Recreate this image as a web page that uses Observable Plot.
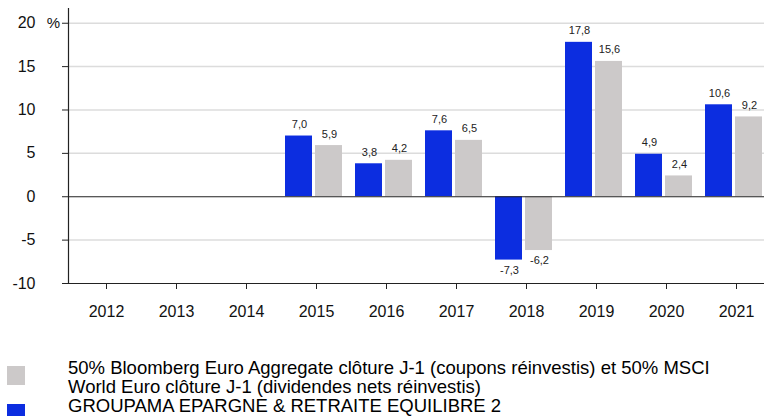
<!DOCTYPE html>
<html>
<head>
<meta charset="utf-8">
<script src="https://cdn.jsdelivr.net/npm/d3@7"></script>
<script src="https://cdn.jsdelivr.net/npm/@observablehq/plot@0.6"></script>
<style>
  html, body { margin: 0; padding: 0; background: #fff; overflow: hidden; }
  body { width: 764px; height: 416px; font-family: "Liberation Sans", Arial, sans-serif; }
  #chart svg { display: block; }
  #legend { position: relative; height: 66px; }
  .sw { position: absolute; left: 7px; width: 18px; height: 19px; }
  .lt { position: absolute; left: 68px; font-size: 18.5px; line-height: 19px; color: #000; white-space: nowrap; }
</style>
</head>
<body>
<div id="chart"></div>
<div id="legend"></div>
<script>
const years = ["2012","2013","2014","2015","2016","2017","2018","2019","2020","2021"];
const fundYears = ["2015","2016","2017","2018","2019","2020","2021"];
const fundValues = [7.0, 3.8, 7.6, -7.3, 17.8, 4.9, 10.6];
const benchValues = [5.9, 4.2, 6.5, -6.2, 15.6, 2.4, 9.2];
const yTicks = [-10, -5, 0, 5, 10, 15, 20];
const gridTicks = [-5, 5, 10, 15, 20];
const fundName = "GROUPAMA EPARGNE &amp; RETRAITE EQUILIBRE 2";
const benchLine1 = "50% Bloomberg Euro Aggregate clôture J-1 (coupons réinvestis) et 50% MSCI";
const benchLine2 = "World Euro clôture J-1 (dividendes nets réinvestis)";
const blue = "#0c2de0";
const grey = "#ccc9c9";

const fund = fundYears.map((y, i) => ({year: y, value: fundValues[i]}));
const bench = fundYears.map((y, i) => ({year: y, value: benchValues[i]}));
const fmt = v => d3.format(".1f")(v).replace(".", ",").replace("\u2212", "-");
const fmtInt = v => String(v);

const chart = Plot.plot({
  width: 764,
  height: 350,
  marginLeft: 68,
  marginRight: 0,
  marginTop: 8,
  marginBottom: 67,
  style: {fontFamily: "'Liberation Sans', Arial, sans-serif", background: "#fff"},
  x: {domain: years, range: [69, 773], padding: 0},
  y: {domain: [-10, 21.7]},
  marks: [
    Plot.ruleY(gridTicks, {stroke: "#dcdcdc", strokeWidth: 1.5}),
    Plot.barY(fund, {x: "year", y: "value", fill: blue, insetLeft: 4, insetRight: 39}),
    Plot.barY(bench, {x: "year", y: "value", fill: grey, insetLeft: 34, insetRight: 9}),
    Plot.ruleY([0], {stroke: "#222", strokeWidth: 1.2}),
    Plot.ruleY([-10], {stroke: "#222", strokeWidth: 1.2}),
    Plot.frame({anchor: "left", stroke: "#222", strokeWidth: 1.2}),
    Plot.text(fund.filter(d => d.value >= 0), {x: "year", y: "value", text: d => fmt(d.value), dx: -17, dy: -8, lineAnchor: "bottom", fontSize: 11, fill: "#222"}),
    Plot.text(fund.filter(d => d.value < 0), {x: "year", y: "value", text: d => fmt(d.value), dx: -17, dy: 6, lineAnchor: "top", fontSize: 11, fill: "#222"}),
    Plot.text(bench.filter(d => d.value >= 0), {x: "year", y: "value", text: d => fmt(d.value), dx: 13, dy: -8, lineAnchor: "bottom", fontSize: 11, fill: "#222"}),
    Plot.text(bench.filter(d => d.value < 0), {x: "year", y: "value", text: d => fmt(d.value), dx: 13, dy: 6, lineAnchor: "top", fontSize: 11, fill: "#222"}),
    Plot.axisY({ticks: yTicks, tickFormat: fmtInt, tickSize: 6, tickPadding: 27, fontSize: 16, label: null, stroke: "#222", fill: "#111"}),
    Plot.text(["%"], {y: [20], frameAnchor: "left", textAnchor: "middle", dx: -15, fontSize: 15, fill: "#111"}),
    Plot.axisX({tickSize: 6, tickPadding: 16, fontSize: 16, label: null, stroke: "#222", fill: "#111"})
  ]
});
document.getElementById("chart").appendChild(chart);

const lg = document.getElementById("legend");
lg.innerHTML = `
  <div class="sw" style="top:16px;background:${grey}"></div>
  <div class="lt" style="top:8px">${benchLine1}<br>${benchLine2}<br>${fundName}</div>
  <div class="sw" style="top:54px;background:${blue}"></div>`;
</script>
</body>
</html>
